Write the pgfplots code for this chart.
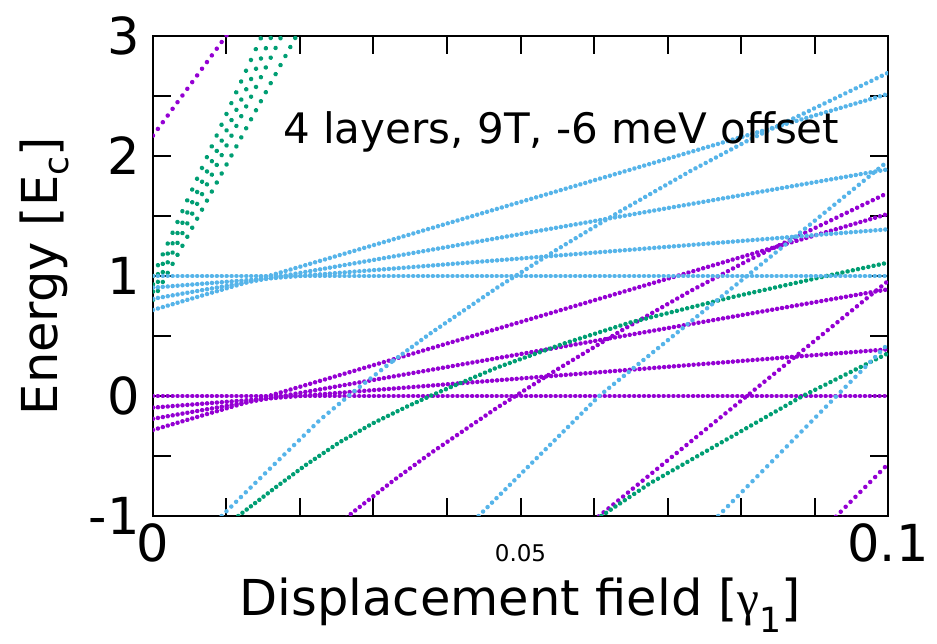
\documentclass[border=0pt]{standalone}
\usepackage{fontspec}
\setmainfont{DejaVu Sans}
\newfontfamily\gfont{Liberation Serif}
\usepackage{pgfplots}
\pgfplotsset{compat=1.18}
\definecolor{cP}{HTML}{9400D3}
\definecolor{cG}{HTML}{009E73}
\definecolor{cB}{HTML}{56B4E9}
\tikzset{dots/.style={line width=4.5pt, line cap=round, dash pattern=on 0.01pt off #1pt}}
\begin{document}
\begin{tikzpicture}
\begin{axis}[
  scale only axis, width=735pt, height=480pt,
  xmin=0, xmax=0.1, ymin=-1, ymax=3,
  xtick={0,0.01,0.02,0.03,0.04,0.05,0.06,0.07,0.08,0.09,0.1},
  xticklabels={0,,,,,{\fontsize{23}{23}\selectfont 0.05},,,,,0.1},
  ytick={-1,-0.5,0,0.5,1,1.5,2,2.5,3},
  yticklabels={-1,,0,,1,,2,,3},
  tick align=inside, major tick length=18pt,
  every tick/.style={black, line width=2pt},
  axis line style={line width=2.4pt},
  tick label style={font=\fontsize{51}{51}\selectfont},
  xticklabel style={anchor=base, yshift=-46pt},
  yticklabel style={xshift=-10pt},
  xlabel={Displacement field [{\gfont γ}\textsubscript{1}]},
  ylabel={Energy [E\textsubscript{c}]},
  label style={font=\fontsize{49.5}{51}\selectfont},
  xlabel style={at={(axis description cs:0.5,-0.2083)}, anchor=base},
  ylabel style={at={(axis description cs:-0.1293,0.5)}, anchor=base},
  clip=true,
]
% purple
\addplot[cP, dots=4.9] coordinates {(0,0) (0.1,0)};
\addplot[cP, dots=5.11] coordinates {(0,-0.283) (0.1,1.517)};
\addplot[cP, dots=4.98] coordinates {(0,-0.19) (0.1,0.889)};
\addplot[cP, dots=4.92] coordinates {(0,-0.097) (0.1,0.389)};
\addplot[cP, dots=8.28] coordinates {(0,2.17) (0.0106,3.055)};
\addplot[cP, dots=5.75] coordinates {(0.0227,-1.2) (0.0273,-0.964) (0.0327,-0.705) (0.0377,-0.48) (0.0468,-0.098) (0.0549,0.218) (0.064,0.555) (0.0731,0.874) (0.0816,1.150) (0.1,1.693)};
\addplot[cP, dots=6.27] coordinates {(0.0443,-2) (0.0607,-1) (0.0808,0) (0.1,0.958)};
\addplot[cP, dots=6.97] coordinates {(0.0769,-2) (0.093,-1) (0.1,-0.567)};
% green
\addplot[cG, dots=11.85] coordinates {(0,1.0) (0.0148,3.0)};
\addplot[cG, dots=11.37] coordinates {(0,0.93) (0.01615,3.0)};
\addplot[cG, dots=10.9] coordinates {(0,0.87) (0.0175,3.0)};
\addplot[cG, dots=10.27] coordinates {(0,0.80) (0.0195,3.0)};
\addplot[cG, dots=5.3] coordinates {(0.0116,-1.0) (0.0168,-0.756) (0.0209,-0.57) (0.0254,-0.385) (0.0300,-0.225) (0.0345,-0.09) (0.0381,0.011) (0.0468,0.237) (0.0558,0.435) (0.0649,0.612) (0.0785,0.82) (0.092,1.005) (0.1,1.111)};
\addplot[cG, dots=5.64] coordinates {(0.061,-1) (0.0676,-0.728) (0.0884,0) (0.1,0.356)};
% blue
\addplot[cB, dots=4.9] coordinates {(0,1) (0.1,1)};
\addplot[cB, dots=5.11] coordinates {(0,0.717) (0.1,2.517)};
\addplot[cB, dots=4.98] coordinates {(0,0.81) (0.1,1.889)};
\addplot[cB, dots=4.92] coordinates {(0,0.903) (0.1,1.389)};
\addplot[cB, dots=6.75] coordinates {(0.00934,-1.0) (0.0141,-0.714) (0.0177,-0.498) (0.0227,-0.2) (0.0273,0.036) (0.0327,0.295)};
\addplot[cB, dots=5.77] coordinates {(0.0327,0.295) (0.0377,0.52) (0.0468,0.902) (0.0549,1.218) (0.064,1.555) (0.0731,1.874) (0.0816,2.150) (0.1,2.693)};
\addplot[cB, dots=6.3] coordinates {(0.0443,-1) (0.0607,0) (0.0808,1) (0.1,1.958)};
\addplot[cB, dots=6.97] coordinates {(0.0769,-1) (0.093,0) (0.1,0.433)};
\node[anchor=base west, inner sep=0pt, font=\fontsize{42}{42}\selectfont] at (axis cs:0.0177,2.1) {4 layers, 9T, -6 meV offset};
\end{axis}
\pgfresetboundingbox
\useasboundingbox (-153pt,-128pt) rectangle (784pt,516pt);
\end{tikzpicture}
\end{document}
